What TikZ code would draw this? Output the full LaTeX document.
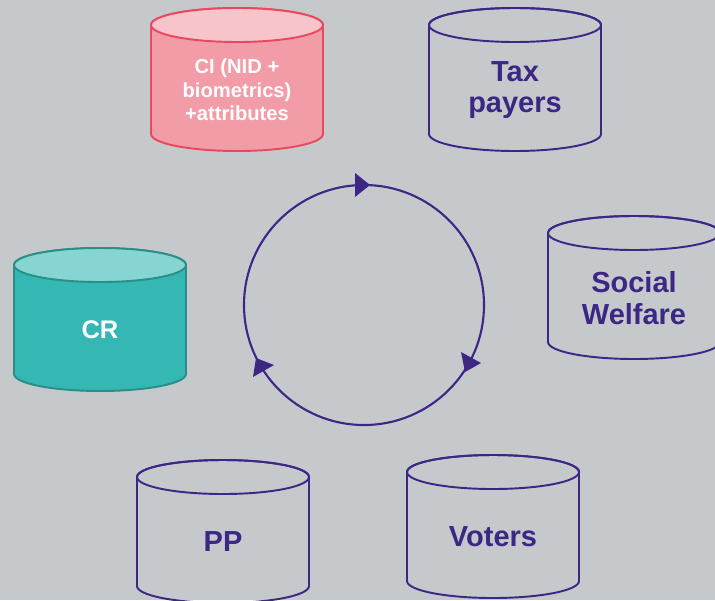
\documentclass[tikz,border=0pt]{standalone}
\usepackage{fontspec}
\setmainfont{Liberation Sans}
\usetikzlibrary{calc}
\definecolor{board}{HTML}{C5C9CC}
\definecolor{ink}{HTML}{3D2785}
\definecolor{rosebody}{HTML}{F29CA8}
\definecolor{rosetop}{HTML}{F7C4CC}
\definecolor{roseline}{HTML}{E9485F}
\definecolor{tealbody}{HTML}{35B8B3}
\definecolor{tealtop}{HTML}{87D5D2}
\definecolor{tealline}{HTML}{2A8E89}
\tikzset{
	plain store/.style={draw=ink, line width=1.1pt}, % the empty purple stores
	ci body/.style={draw=roseline, line width=1.1pt, fill=rosebody},
	ci lid/.style={draw=roseline, line width=1.1pt, fill=rosetop},
	cr body/.style={draw=tealline, line width=1.1pt, fill=tealbody},
	cr lid/.style={draw=tealline, line width=1.1pt, fill=tealtop},
	store text/.style={text=ink, align=center, font=\bfseries\fontsize{16.5}{17.8}\selectfont},
	ci text/.style={text=white, align=center, font=\bfseries\fontsize{11.5}{13.5}\selectfont},
	cr text/.style={text=white, font=\bfseries\fontsize{14.5}{16}\selectfont},
	cycle line/.style={draw=ink, line width=1.2pt},
	cycle tip/.style={fill=ink},
}
% #1 body, #2 lid, #3 text style, #4 name, #5 centre of the lid, #6 text
\newcommand{\dbstore}[6]{%
	\coordinate (#4-lid) at (#5);
	\draw[#1] ($(#4-lid)+(-86,0)$) -- ++(0,-109)
		arc[start angle=180, end angle=360, x radius=86, y radius=17]
		-- ++(0,109) arc[start angle=0, end angle=180, x radius=86, y radius=17] -- cycle;
	\draw[#2] (#4-lid) ellipse[x radius=86, y radius=17];
	\node[#3] (#4) at ($(#4-lid)+(0,-65)$) {#6};
}

\begin{document}
\begin{tikzpicture}[x=0.02cm, y=0.02cm]
		\fill[board] (0,0) rectangle (715,600);
		\clip (0,0) rectangle (715,600);
		
		\dbstore{ci body}{ci lid}{ci text}{ci}{237,575}{CI (NID +\\biometrics)\\+attributes}
		\dbstore{plain store}{plain store}{store text}{tax}{515,575}{Tax\\payers}
		\dbstore{plain store}{plain store}{store text}{welfare}{634,367}{Social\\Welfare}
		\dbstore{cr body}{cr lid}{cr text}{cr}{100,335}{CR}
		\dbstore{plain store}{plain store}{store text}{pp}{223,123}{PP}
		\dbstore{plain store}{plain store}{store text}{voters}{493,128}{Voters}
		
		% the cycle in the middle
		\coordinate (hub) at (364,295);
		\draw[cycle line] (hub) circle[radius=120];
		\fill[cycle tip] (355,427) -- (370,415) -- (355,403) -- cycle;
		\fill[cycle tip] (461,248) -- (481,237) -- (465,228) -- cycle;
		\fill[cycle tip] (256,242) -- (274,235) -- (253,223) -- cycle;
	\end{tikzpicture}
\end{document}
